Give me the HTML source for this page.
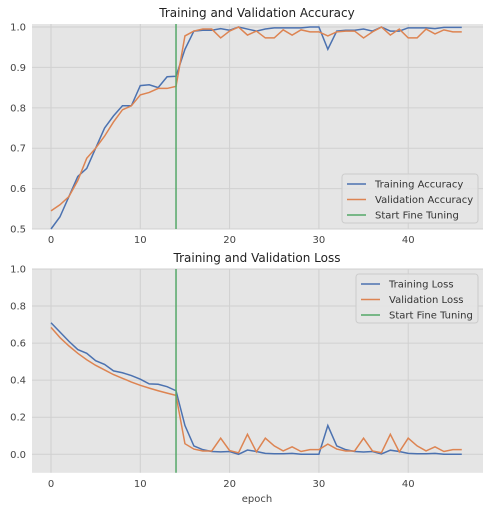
<!DOCTYPE html>
<html><head><meta charset="utf-8"><style>
body{margin:0;background:#fff;}
svg text{font-family:"DejaVu Sans","Liberation Sans",sans-serif;}
</style></head><body>
<svg id="chart" width="490" height="512" xmlns="http://www.w3.org/2000/svg"></svg>
<script>
const epochs = Array.from({length:47},(_,i)=>i);
const trainAcc=[0.50,0.53,0.58,0.63,0.65,0.70,0.75,0.78,0.805,0.805,0.855,0.857,0.85,0.877,0.878,0.945,0.99,0.992,0.992,0.996,0.992,1.0,0.995,0.99,0.995,0.998,0.998,0.998,0.998,1.0,1.0,0.945,0.99,0.992,0.992,0.995,0.99,1.0,0.99,0.99,0.998,0.998,0.998,0.996,0.999,0.999,0.999];
const valAcc=[0.545,0.56,0.58,0.62,0.675,0.70,0.73,0.765,0.795,0.805,0.832,0.838,0.848,0.848,0.853,0.978,0.99,0.995,0.995,0.973,0.99,1.0,0.98,0.99,0.973,0.973,0.993,0.98,0.993,0.988,0.988,0.978,0.988,0.99,0.99,0.973,0.988,1.0,0.98,0.995,0.973,0.973,0.995,0.983,0.993,0.988,0.988];
const trainLoss=[0.71,0.66,0.61,0.565,0.545,0.505,0.485,0.45,0.44,0.425,0.405,0.38,0.378,0.365,0.343,0.155,0.045,0.025,0.015,0.013,0.015,0.0,0.023,0.015,0.005,0.003,0.003,0.005,0.0,0.0,0.0,0.155,0.045,0.025,0.015,0.012,0.015,0.002,0.022,0.015,0.005,0.003,0.003,0.005,0.0,0.0,0.0];
const valLoss=[0.685,0.63,0.585,0.545,0.51,0.48,0.455,0.43,0.41,0.39,0.372,0.357,0.343,0.33,0.318,0.057,0.028,0.018,0.018,0.087,0.02,0.008,0.108,0.013,0.087,0.045,0.018,0.04,0.015,0.025,0.025,0.055,0.028,0.018,0.018,0.087,0.018,0.008,0.108,0.013,0.087,0.045,0.018,0.04,0.015,0.025,0.025];
const xTicks=[0,10,20,30,40];
const accTicks=[0.5,0.6,0.7,0.8,0.9,1.0];
const lossTicks=[0.0,0.2,0.4,0.6,0.8,1.0];
const fineTuneEpoch=14;

const NS="http://www.w3.org/2000/svg";
const svg=document.getElementById('chart');
function mk(tag,attrs,parent){const e=document.createElementNS(NS,tag);for(const k in attrs)e.setAttribute(k,attrs[k]);(parent||svg).appendChild(e);return e;}
const xs=v=>51+v*8.93;

function panel(name,top,bottom,yMin,yMax,yTicks,title,series,legend,lg){
  const ys=v=>bottom-(v-yMin)/(yMax-yMin)*(bottom-top);
  const g=mk('g',{});
  
  
  const bg=mk('rect',{x:32,y:top,width:451,height:bottom-top,fill:'#e5e5e5'},g);
  
  
  xTicks.forEach(t=>{
    mk('line',{x1:xs(t),x2:xs(t),y1:top,y2:bottom,stroke:'#d0d0d0','stroke-width':1},g);
    const tl=mk('text',{x:xs(t),y:bottom+14,'font-size':10,fill:'#444','text-anchor':'middle'},g);
    tl.textContent=t;
    
    
  });
  yTicks.forEach(t=>{
    mk('line',{x1:32,x2:483,y1:ys(t),y2:ys(t),stroke:'#d0d0d0','stroke-width':1},g);
    const tl=mk('text',{x:26,y:ys(t)+3.5,'font-size':10,fill:'#444','text-anchor':'end'},g);
    tl.textContent=t.toFixed(1);
    
    
  });
  const tt=mk('text',{x:257,y:top-7,'font-size':12,fill:'#222','text-anchor':'middle'},g);
  tt.textContent=title;
  
  
  series.forEach(s=>{
    const p=mk('polyline',{points:s.data.map((v,i)=>xs(epochs[i])+','+ys(v)).join(' '),fill:'none',stroke:s.color,'stroke-width':1.5},g);
    
    
  });
  const vl=mk('line',{x1:xs(fineTuneEpoch),x2:xs(fineTuneEpoch),y1:top,y2:bottom,stroke:'#55a868','stroke-width':1.5},g);
  
  
  const lgG=mk('g',{},g);
  
  
  mk('rect',{x:lg.x,y:lg.y,width:lg.w,height:49,rx:3,fill:'#e5e5e5','fill-opacity':0.85,stroke:'#cccccc'},lgG);
  legend.forEach((l,i)=>{
    const cy=lg.y+10+i*15.5;
    mk('line',{x1:lg.x+5,x2:lg.x+24,y1:cy,y2:cy,stroke:l.color,'stroke-width':1.5},lgG);
    const t=mk('text',{x:lg.x+33,y:cy+3.5,'font-size':10,fill:'#333'},lgG);
    t.textContent=l.label;
    
    
  });
}
panel('accuracy-chart',24,229,0.5,1.0075,accTicks,'Training and Validation Accuracy',
  [{data:trainAcc,color:'#4c72b0',name:'training-accuracy-line'},{data:valAcc,color:'#dd8452',name:'validation-accuracy-line'}],
  [{label:'Training Accuracy',color:'#4c72b0'},{label:'Validation Accuracy',color:'#dd8452'},{label:'Start Fine Tuning',color:'#55a868'}],
  {x:342,y:174,w:136});
panel('loss-chart',269,472.8,-0.1,1.0,lossTicks,'Training and Validation Loss',
  [{data:trainLoss,color:'#4c72b0',name:'training-loss-line'},{data:valLoss,color:'#dd8452',name:'validation-loss-line'}],
  [{label:'Training Loss',color:'#4c72b0'},{label:'Validation Loss',color:'#dd8452'},{label:'Start Fine Tuning',color:'#55a868'}],
  {x:356,y:274,w:122});
const xl=mk('text',{x:257,y:502,'font-size':10,fill:'#444','text-anchor':'middle'});
xl.textContent='epoch';


</script>
</body></html>
